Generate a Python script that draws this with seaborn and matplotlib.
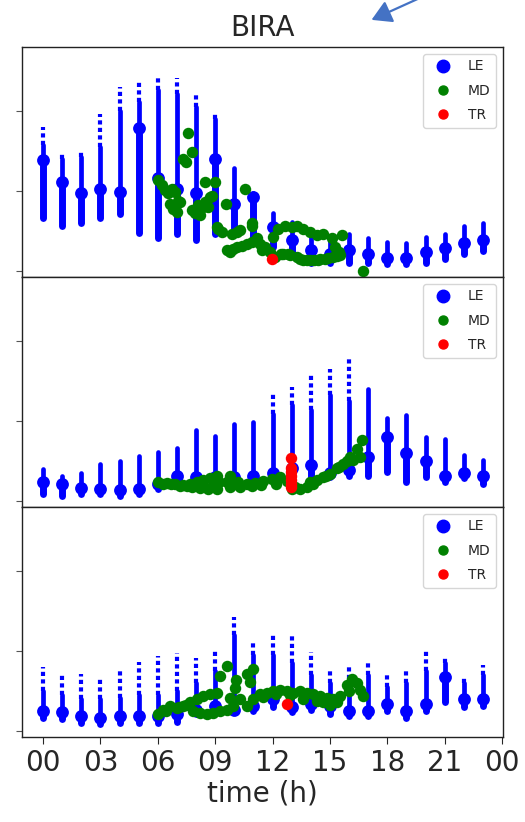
import matplotlib
matplotlib.use("Agg")
import matplotlib.pyplot as plt
from matplotlib.lines import Line2D
from matplotlib.patches import FancyArrowPatch
import seaborn as sns

sns.set_style("ticks")
plt.rcParams["font.family"] = ["DejaVu Sans"]

hours = list(range(24))
tick_hours = [0, 3, 6, 9, 12, 15, 18, 21, 24]
tick_labels = ["00", "03", "06", "09", "12", "15", "18", "21", "00"]

# ---- LE: hourly distributions (bottom, dense top, top, centre) per panel ----
le1_bottom = [0.66, 0.57, 0.60, 0.66, 0.71, 0.48, 0.42, 0.47, 0.39, 0.47, 0.51, 0.39,
              0.30, 0.20, 0.11, 0.11, 0.11, 0.10, 0.09, 0.09, 0.11, 0.16, 0.22, 0.25]
le1_dense = [1.57, 1.40, 1.42, 1.55, 2.00, 2.10, 2.25, 2.20, 2.05, 1.90, 1.29, 0.98,
             0.73, 0.61, 0.47, 0.39, 0.47, 0.42, 0.36, 0.35, 0.43, 0.47, 0.57, 0.60]
le1_top = [1.79, 1.47, 1.48, 1.96, 2.29, 2.35, 2.43, 2.41, 2.20, 1.98, 1.29, 0.98,
           0.73, 0.61, 0.47, 0.39, 0.47, 0.42, 0.36, 0.35, 0.43, 0.47, 0.57, 0.60]
le1_center = [1.39, 1.11, 0.97, 1.03, 0.99, 1.78, 1.16, 1.03, 0.97, 1.40, 0.84, 0.92,
              0.55, 0.39, 0.26, 0.22, 0.26, 0.22, 0.17, 0.17, 0.24, 0.29, 0.35, 0.39]

le2_bottom = [0.09, 0.07, 0.09, 0.09, 0.07, 0.09, 0.16, 0.22, 0.26, 0.22, 0.22, 0.22,
              0.26, 0.17, 0.26, 0.30, 0.32, 0.32, 0.36, 0.24, 0.30, 0.24, 0.29, 0.21]
le2_dense = [0.40, 0.32, 0.35, 0.47, 0.50, 0.56, 0.62, 0.66, 0.89, 0.81, 0.96, 0.99,
             1.09, 1.20, 1.13, 1.32, 1.25, 1.40, 1.04, 1.07, 0.80, 0.78, 0.58, 0.52]
le2_top = [0.40, 0.32, 0.35, 0.47, 0.50, 0.56, 0.62, 0.66, 0.89, 0.81, 0.96, 0.99,
           1.34, 1.42, 1.60, 1.64, 1.78, 1.40, 1.04, 1.07, 0.80, 0.78, 0.58, 0.52]
le2_center = [0.24, 0.21, 0.17, 0.16, 0.14, 0.15, 0.22, 0.32, 0.30, 0.30, 0.30, 0.32,
              0.35, 0.42, 0.45, 0.35, 0.39, 0.55, 0.80, 0.60, 0.50, 0.31, 0.35, 0.32]

le3_bottom = [0.17, 0.15, 0.11, 0.09, 0.11, 0.11, 0.11, 0.12, 0.21, 0.24, 0.24, 0.25,
              0.30, 0.24, 0.27, 0.21, 0.19, 0.19, 0.25, 0.17, 0.25, 0.36, 0.30, 0.31]
le3_dense = [0.50, 0.45, 0.40, 0.40, 0.42, 0.45, 0.45, 0.50, 0.60, 0.75, 1.20, 0.95,
             0.95, 0.85, 0.70, 0.60, 0.65, 0.70, 0.55, 0.60, 0.75, 0.85, 0.60, 0.70]
le3_top = [0.80, 0.73, 0.71, 0.68, 0.75, 0.86, 0.94, 0.98, 0.91, 1.03, 1.42, 1.14,
           1.20, 1.18, 0.99, 0.77, 0.83, 0.86, 0.73, 0.75, 1.01, 0.92, 0.68, 0.82]
le3_center = [0.25, 0.24, 0.19, 0.17, 0.19, 0.19, 0.19, 0.21, 0.27, 0.31, 0.27, 0.31,
              0.40, 0.30, 0.34, 0.31, 0.25, 0.25, 0.34, 0.25, 0.34, 0.67, 0.40, 0.40]

# ---- MD trajectories ----
md1_t = [6.03, 6.20, 6.38, 6.55, 6.73, 6.90, 7.07, 6.64, 6.81, 6.99, 7.16, 7.34, 7.48,
         7.77, 7.60, 7.77, 7.95, 8.21, 8.12, 8.47, 8.64, 8.73, 8.47, 8.99, 8.83, 8.36,
         9.08, 9.34, 9.86, 10.12, 10.30, 9.57, 10.56, 10.91, 9.78, 10.12, 10.38, 10.65,
         10.91, 11.17, 11.34, 11.61, 11.87, 12.04, 12.30, 12.65, 13.00, 13.26, 13.61,
         13.96, 14.31, 14.65, 15.09, 15.61, 12.56, 12.91, 13.26, 13.61, 13.96, 14.39,
         14.74, 15.18, 15.53, 16.74, 9.15, 10.93, 11.45, 15.26, 15.45, 9.60, 9.95,
         12.15, 12.45, 12.80, 13.45, 13.80, 14.15, 14.50, 14.90, 15.35]
md1_v = [1.13, 1.07, 1.01, 0.97, 1.03, 0.99, 0.88, 0.84, 0.78, 0.74, 0.86, 1.40, 1.36,
         1.48, 1.72, 0.76, 0.72, 0.70, 0.82, 0.86, 0.80, 0.93, 1.11, 1.11, 0.94, 0.80,
         0.55, 0.49, 0.47, 0.49, 0.51, 0.84, 1.03, 0.57, 0.24, 0.30, 0.32, 0.34, 0.36,
         0.41, 0.34, 0.30, 0.24, 0.43, 0.53, 0.57, 0.55, 0.57, 0.53, 0.49, 0.45, 0.47,
         0.41, 0.45, 0.22, 0.20, 0.18, 0.14, 0.14, 0.14, 0.16, 0.18, 0.20, 0.00, 0.53,
         0.60, 0.26, 0.30, 0.24, 0.27, 0.28, 0.18, 0.22, 0.21, 0.16, 0.14, 0.14, 0.15,
         0.17, 0.19]

md2_t = [6.03, 6.46, 6.90, 7.33, 7.68, 8.03, 8.38, 8.73, 9.08, 9.22, 9.08, 8.64, 8.21,
         7.77, 7.15, 9.78, 9.64, 9.78, 10.21, 10.65, 11.08, 11.52, 11.95, 12.39, 12.74,
         10.30, 13.00, 13.43, 13.78, 13.96, 14.31, 14.65, 15.00, 15.35, 15.70, 16.05,
         16.40, 16.66, 16.22, 16.57, 11.40, 12.20, 6.25, 6.68, 7.55, 8.90, 10.00, 10.90,
         13.20, 14.10, 14.80, 15.50, 15.90]
md2_v = [0.24, 0.23, 0.21, 0.20, 0.21, 0.24, 0.27, 0.29, 0.31, 0.24, 0.16, 0.16, 0.17,
         0.18, 0.19, 0.32, 0.24, 0.18, 0.24, 0.22, 0.23, 0.25, 0.28, 0.30, 0.25, 0.18,
         0.16, 0.16, 0.18, 0.24, 0.26, 0.30, 0.34, 0.41, 0.47, 0.55, 0.65, 0.76, 0.52,
         0.55, 0.20, 0.22, 0.22, 0.22, 0.19, 0.20, 0.21, 0.19, 0.18, 0.22, 0.31, 0.43,
         0.50]

md3_t = [6.03, 6.29, 6.64, 6.99, 7.34, 7.68, 8.03, 8.38, 8.73, 9.08, 7.86, 8.21, 8.56,
         8.90, 9.25, 9.60, 9.95, 9.78, 10.04, 9.25, 9.60, 10.65, 11.00, 10.82, 10.30,
         10.65, 10.99, 11.34, 11.69, 12.04, 12.39, 12.74, 13.09, 13.43, 13.78, 14.13,
         14.48, 14.83, 15.18, 15.53, 15.88, 16.14, 16.40, 16.57, 16.74, 13.60, 14.30,
         15.00, 10.10, 6.45, 7.10, 7.50, 11.50, 12.20, 12.90, 14.65, 15.35, 16.00]
md3_v = [0.21, 0.27, 0.31, 0.29, 0.31, 0.36, 0.40, 0.44, 0.46, 0.48, 0.25, 0.23, 0.21,
         0.23, 0.25, 0.27, 0.31, 0.42, 0.54, 0.69, 0.81, 0.71, 0.77, 0.62, 0.40, 0.31,
         0.40, 0.46, 0.48, 0.50, 0.52, 0.50, 0.48, 0.50, 0.48, 0.46, 0.44, 0.42, 0.40,
         0.44, 0.58, 0.65, 0.60, 0.52, 0.44, 0.40, 0.38, 0.33, 0.64, 0.25, 0.30, 0.33,
         0.43, 0.47, 0.45, 0.37, 0.36, 0.50]

# ---- TR points ----
tr1_t = [11.95]
tr1_v = [0.15]
tr2_t = [12.97, 12.97, 12.97, 12.97, 12.97, 12.97, 12.97]
tr2_v = [0.54, 0.42, 0.37, 0.32, 0.27, 0.22, 0.18]
tr3_t = [12.74]
tr3_v = [0.34]

panels = [
    (le1_bottom, le1_dense, le1_top, le1_center, md1_t, md1_v, tr1_t, tr1_v),
    (le2_bottom, le2_dense, le2_top, le2_center, md2_t, md2_v, tr2_t, tr2_v),
    (le3_bottom, le3_dense, le3_top, le3_center, md3_t, md3_v, tr3_t, tr3_v),
]

W, H = 525, 822
fig, axes = plt.subplots(3, 1, figsize=(W / 100, H / 100), dpi=100, sharex=True)
fig.subplots_adjust(left=22 / W, right=503 / W, top=1 - 47 / H, bottom=1 - 737 / H,
                    hspace=0)

for ax, (lo, dense, top, ctr, mt, mv, tt, tv) in zip(axes, panels):
    # dense body of each hourly distribution
    body = ax.vlines(hours, lo, dense, colors="blue", lw=3.4, zorder=2)
    body.set_capstyle("round")
    # sparse upper tail
    ax.vlines(hours, dense, top, colors="blue", lw=3.0,
              linestyles=[(0, (1.0, 0.8))], zorder=2)
    # thicker core below the centre value
    core = ax.vlines(hours, lo, ctr, colors="blue", lw=5.0, zorder=2)
    core.set_capstyle("round")
    sns.scatterplot(x=hours, y=ctr, ax=ax, color="blue", s=85, linewidth=0,
                    zorder=3, legend=False)
    sns.scatterplot(x=mt, y=mv, ax=ax, color="green", s=68, linewidth=0,
                    zorder=4, legend=False)
    sns.scatterplot(x=tt, y=tv, ax=ax, color="red", s=68, linewidth=0,
                    zorder=5, legend=False)

    ax.set_xlim(-1.1, 24.05)
    ax.set_ylim(-0.07, 2.79)
    ax.set_yticks([0, 1, 2])
    ax.set_yticklabels([])
    ax.set_ylabel("")
    ax.tick_params(axis="y", length=4, width=0.8, color="#555555")
    for sp in ax.spines.values():
        sp.set_color("#222222")
        sp.set_linewidth(1.0)

    handles = [
        Line2D([], [], ls="", marker="o", color="blue", markersize=9),
        Line2D([], [], ls="", marker="o", color="green", markersize=6.5),
        Line2D([], [], ls="", marker="o", color="red", markersize=6.5),
    ]
    ax.legend(handles, ["LE", "MD", "TR"], loc="upper right", fontsize=10,
              labelspacing=0.75, frameon=True, fancybox=True)

axes[-1].set_xticks(tick_hours)
axes[-1].set_xticklabels(tick_labels, fontsize=20)
axes[-1].tick_params(axis="x", length=5, width=0.8)
axes[-1].set_xlabel("time (h)", fontsize=20, labelpad=2)
axes[0].set_title("BIRA", fontsize=20, pad=8)

# pointer arrow at the top
fig.add_artist(FancyArrowPatch(posA=(422 / W, 1 + 3 / H), posB=(369 / W, 1 - 21 / H),
                               transform=fig.transFigure, color="#4472c4", lw=1.6,
                               arrowstyle="-|>,head_length=0.6,head_width=0.35",
                               mutation_scale=20))

fig.savefig("out.png", dpi=100)
